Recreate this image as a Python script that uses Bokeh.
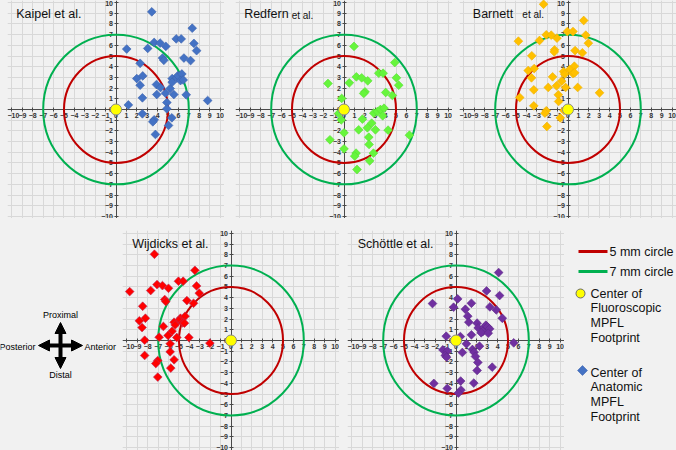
import math
from bokeh.plotting import figure
from bokeh.models import Range1d, FixedTicker, Label, Arrow, NormalHead, Spacer
from bokeh.layouts import row, column
from bokeh.embed import file_html
from bokeh.resources import INLINE

BG = "#f1f1f1"
GRID = "#d8d8d8"
FONT = "Liberation Sans"

ticks = list(range(-10, 11))
radii = [5, 7]
radius_colors = ["#c00000", "#00b050"]
center_x = [0]
center_y = [0]

kaipel_x = [3.44, 1.03, 3.05, 3.67, 4.24, 4.79, 5.79, 6.27, 7.33, 7.49, 7.75, 6.53, 7.17, 4.47, 4.6, 2.32, 2.0, 2.57, 2.32, 2.54,
            1.19, 2.54, 3.89, 4.28, 3.92, 4.76, 5.21, 4.89, 4.89, 5.4, 5.4, 5.85, 5.95, 6.33, 6.2, 6.46, 5.56, 6.75, 8.81, 5.37,
            5.05, 3.67, 3.54, 3.79]
kaipel_y = [9.13, 5.65, 5.71, 6.27, 6.21, 5.9, 6.6, 6.6, 7.6, 6.18, 5.5, 4.81, 4.57, 4.81, 4.6, 4.32, 2.89, 3.14, 2.27, 1.09,
            0.43, -0.4, 2.33, 2.05, 1.4, 1.52, 1.96, 0.65, 0.06, 2.89, 2.55, 2.95, 3.17, 3.32, 2.7, 2.76, 1.4, 1.37, 0.84, -0.78,
            -1.49, -0.96, -1.15, -2.33]

redfern_x = [0.96, 4.88, 3.34, 3.76, 5.04, 5.26, 1.19, 1.7, 2.28, 0.51, -1.54, 2.02, 1.89, 4.01, 4.65, -0.22, -0.51, -0.26, 2.86, 3.21,
             3.5, 3.85, 3.72, 1.77, 2.66, 2.25, 3.02, 4.24, 1.41, 0.0, 6.29, -1.35, 2.38, 2.41, 0.0, 2.83, 1.16, 1.03, 2.47, 1.25]
redfern_y = [5.9, 4.39, 3.39, 3.39, 2.96, 2.27, 3.05, 2.96, 2.68, 2.49, 2.43, 1.65, 1.5, 1.59, 1.31, 1.03, -0.37, -0.97, -0.34, -0.19,
             0.0, 0.12, -0.59, -0.9, -1.28, -1.71, -1.9, -1.93, -1.9, -2.18, -2.4, -2.83, -2.59, -3.27, -3.68, -4.08, -4.08, -4.36, -4.8, -5.61]

barnett_x = [-2.35, 1.51, -4.77, -2.74, -2.09, -1.61, -1.06, -0.06, 0.48, 1.71, 1.96, -1.29, -1.32, 0.68, 1.38, -3.48, -3.83, -3.25, -3.51, -1.48,
             0.61, 0.16, -0.42, -0.32, 0.48, 0.64, -0.61, -1.1, -1.9, -0.23, 0.93, -3.29, -4.64, -0.93, 3.03, -0.9, -3.29, -2.09, -2.22, -0.39,
             -0.74, -2.03]
barnett_y = [9.84, 8.32, 6.39, 6.45, 6.98, 6.95, 6.67, 7.29, 7.29, 6.95, 6.2, 5.58, 5.39, 5.51, 5.3, 5.02, 3.64, 3.83, 2.96, 3.05,
             4.05, 3.74, 3.55, 3.3, 3.36, 3.43, 2.65, 2.21, 2.06, 2.06, 2.06, 1.84, 1.12, 1.37, 1.56, 0.75, 0.34, -0.12, -0.34, -0.09,
             -0.78, -1.59]

wijdicks_x = [-7.36, -3.47, -7.11, -6.59, -7.72, -9.74, -6.01, -5.05, -4.6, -3.31, -3.05, -6.37, -6.27, -4.24, -3.6, -8.49, -8.23, -8.81, -8.55, -4.86,
              -4.41, -5.02, -5.47, -5.37, -4.63, -4.47, -6.5, -5.66, -6.05, -5.21, -4.05, -6.91, -8.3, -5.85, -2.03, -5.85, -8.3, -5.47, -7.04, -7.23,
              -5.79, -7.04]
wijdicks_y = [8.06, 6.56, 5.23, 5.13, 4.67, 4.57, 4.88, 5.54, 5.54, 5.1, 4.42, 3.83, 3.64, 3.73, 3.48, 3.2, 2.08, 1.84, 1.21, 2.08,
              2.27, 1.87, 1.71, 1.46, 1.65, 1.62, 1.31, 0.87, 0.47, 0.28, 0.28, 0.31, 0.03, -0.31, -0.25, -1.06, -1.4, -1.8, -1.87, -2.15,
              -2.58, -3.42]

schottle_x = [4.1, 2.94, 4.19, -2.26, 0.16, -0.23, 1.48, 0.9, 3.26, 3.87, 4.45, 1.13, 1.23, 2.03, 2.13, 2.68, 2.87, 3.03, 3.23, 2.58,
              2.42, 3.1, 1.48, -0.94, 0.42, 5.55, 1.0, 2.26, -1.26, -0.84, 0.61, 1.58, 1.74, -1.03, -0.9, 1.87, 2.1, 3.48, 2.03, -2.13,
              0.45, 1.71, -0.84, 0.48, 0.23]
schottle_y = [6.35, 4.63, 4.2, 3.45, 3.89, 3.11, 3.48, 2.92, 3.14, 2.86, 2.08, 2.27, 1.71, 1.62, 1.18, 1.18, 1.43, 1.28, 1.09, 0.84,
              0.72, 0.68, 0.53, 0.4, 0.37, -0.22, -0.31, -0.53, -0.87, -1.0, -1.12, -0.84, -1.09, -1.4, -1.56, -1.49, -2.05, -2.49, -2.8, -4.01,
              -3.79, -3.98, -4.48, -4.63, -4.91]

legend_labels = ["5 mm circle", "7 mm circle"]
fluoro_lines = ["Center of", "Fluoroscopic", "MPFL", "Footprint"]
anat_lines = ["Center of", "Anatomic", "MPFL", "Footprint"]
compass_labels = ["Proximal", "Distal", "Posterior", "Anterior"]

W = 217
RX = 10.43
H_TOP, RY_TOP = 218, 10.19
H_BOT, RY_BOT = 220, 10.28


def base_fig(w, h, xr, yr):
    p = figure(width=w, height=h, x_range=xr, y_range=yr, output_backend="svg",
               toolbar_location=None, min_border=0, background_fill_color=BG,
               border_fill_color=BG, outline_line_color=None)
    return p


def make_panel(xs, ys, fill, edge, h, ry, title, tx, ty, suffix=None, suffix_offset=0):
    p = base_fig(W, h, Range1d(-RX, RX), Range1d(-ry, ry))
    for ax in (p.xaxis[0], p.yaxis[0]):
        ax.fixed_location = 0
        ax.ticker = FixedTicker(ticks=ticks)
        ax.axis_line_color = "#4a4a4a"
        ax.axis_line_width = 1
        ax.major_tick_line_color = "#4a4a4a"
        ax.major_tick_in = 2
        ax.major_tick_out = 2
        ax.minor_tick_line_color = None
        ax.major_label_text_font = FONT
        ax.major_label_text_font_size = "7px"
        ax.major_label_text_font_style = "bold"
        ax.major_label_text_color = "#333333"
        ax.major_label_standoff = 1
    p.grid.grid_line_color = GRID
    p.grid.grid_line_width = 1
    p.ellipse(x=[0] * len(radii), y=[0] * len(radii), width=[2 * r for r in radii],
              height=[2 * r for r in radii], fill_color=None, line_color=radius_colors,
              line_width=2, level="overlay")
    p.scatter(xs, ys, marker="square", angle=math.pi / 4, size=6.2, fill_color=fill,
              line_color=edge, line_width=0.6, level="overlay")
    p.scatter(center_x, center_y, size=11, fill_color="#ffff00", line_color="#8a8a8a",
              line_width=1, level="overlay")
    p.add_layout(Label(x=tx, y=ty, text=title, text_font=FONT, text_font_size="12.5px",
                       text_color="#111111", text_baseline="middle"))
    if suffix:
        p.add_layout(Label(x=tx, y=ty, x_offset=suffix_offset, y_offset=-1, text=suffix,
                           text_font=FONT, text_font_size="10px", text_color="#111111",
                           text_baseline="middle"))
    return p


f1 = make_panel(kaipel_x, kaipel_y, "#4472c4", "#3a62ad", H_TOP, RY_TOP, "Kaipel et al.", -9.6, 8.9)
f2 = make_panel(redfern_x, redfern_y, "#66f53c", "#55de32", H_TOP, RY_TOP, "Redfern", -9.6, 8.9, "et al.", 47.5)
f3 = make_panel(barnett_x, barnett_y, "#ffc000", "#eeb000", H_TOP, RY_TOP, "Barnett", -9.15, 8.95, "et al.", 49.5)
f4 = make_panel(wijdicks_x, wijdicks_y, "#ff0000", "#b8305a", H_BOT, RY_BOT, "Wijdicks et al.", -9.5, 9.0)
f5 = make_panel(schottle_x, schottle_y, "#7030a0", "#5e2888", H_BOT, RY_BOT, "Schöttle et al.", -9.45, 9.0)

# compass (coordinates in pixels of its own small panel)
CW = 122
cp = base_fig(CW, H_BOT, Range1d(0, CW), Range1d(H_BOT, 0))
cp.axis.visible = False
cp.grid.visible = False
cx, cy = 60, 115
for (xs_, ys_, xe_, ye_) in [(cx, cy - 23, cx, cy + 23), (cx - 22, cy, cx + 22, cy)]:
    cp.add_layout(Arrow(x_start=xs_, y_start=ys_, x_end=xe_, y_end=ye_, line_width=4,
                        line_color="black",
                        start=NormalHead(size=11, fill_color="black", line_color="black"),
                        end=NormalHead(size=11, fill_color="black", line_color="black")))
for txt, x_, y_, al in [(compass_labels[0], cx, cy - 31, "center"), (compass_labels[1], cx, cy + 29, "center"),
                        (compass_labels[2], cx - 25, cy + 1, "right"), (compass_labels[3], cx + 24, cy + 1, "left")]:
    cp.add_layout(Label(x=x_, y=y_, text=txt, text_font=FONT, text_font_size="9px",
                        text_color="#000000", text_align=al, text_baseline="middle"))

# legend (coordinates in pixels of its own small panel)
LW = 112
lg = base_fig(LW, H_BOT, Range1d(0, LW), Range1d(H_BOT, 0))
lg.axis.visible = False
lg.grid.visible = False
ly = [21, 41]
lg.segment(x0=[14, 14], y0=ly, x1=[43, 43], y1=ly, line_color=radius_colors, line_width=3)
for t, y_ in zip(legend_labels, ly):
    lg.add_layout(Label(x=45, y=y_, text=t, text_font=FONT, text_font_size="12.5px",
                        text_color="#111111", text_baseline="middle"))
lg.scatter([16], [63], size=9, fill_color="#ffff00", line_color="#6a6a6a", line_width=1)
for i, t in enumerate(fluoro_lines):
    lg.add_layout(Label(x=26, y=63 + i * 14.7, text=t, text_font=FONT, text_font_size="12.5px",
                        text_color="#111111", text_baseline="middle"))
lg.scatter([18], [140], marker="square", angle=math.pi / 4, size=7, fill_color="#4472c4",
           line_color="#3a62ad", line_width=0.6)
for i, t in enumerate(anat_lines):
    lg.add_layout(Label(x=26, y=142 + i * 14.7, text=t, text_font=FONT, text_font_size="12.5px",
                        text_color="#111111", text_baseline="middle"))

top = row(Spacer(width=7, height=H_TOP), f1, Spacer(width=11, height=H_TOP), f2,
          Spacer(width=7, height=H_TOP), f3)
bottom = row(cp, f4, Spacer(width=8, height=H_BOT), f5, lg)
root = column(top, Spacer(width=676, height=12), bottom, styles={"background-color": BG})

html = file_html(root, INLINE)
html = html.replace("</head>", "<style>html, body { background-color: %s; }</style></head>" % BG, 1)
open("out.html", "w").write(html)
